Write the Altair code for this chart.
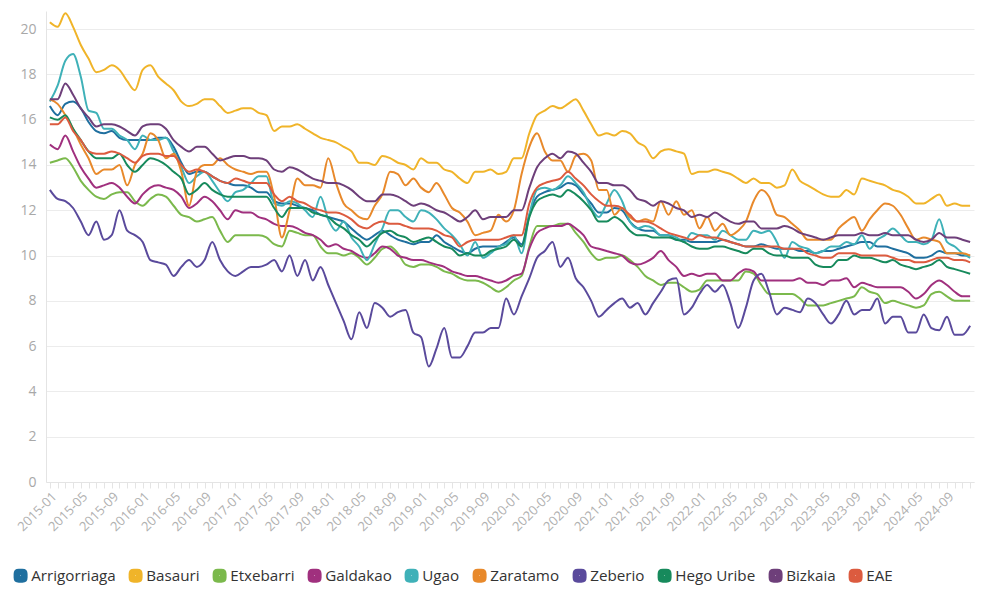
import altair as alt
import pandas as pd

months = [f"{y}-{m:02d}" for y in range(2015, 2025) for m in range(1, 13)]

series_names = ["Arrigorriaga", "Basauri", "Etxebarri", "Galdakao", "Ugao",
                "Zaratamo", "Zeberio", "Hego Uribe", "Bizkaia", "EAE"]
colors = ["#1f6f9f", "#f0b429", "#7bb94c", "#a0307e", "#3fb1b8",
          "#e8892b", "#5a4a9c", "#178a5c", "#6e3f7a", "#dc5b3f"]

arrigorriaga = [16.6, 16.2, 16.7, 16.8, 16.5, 15.9, 15.5, 15.4, 15.5, 15.2,
                15.1, 15.1, 15.1, 15.1, 15.2, 15.2, 14.8, 14.1, 13.6, 13.7,
                13.7, 13.5, 13.3, 13.2, 13.1, 13.1, 13.0, 12.8, 12.8, 12.4,
                12.3, 12.3, 12.2, 12.1, 12.0, 11.8, 11.7, 11.6, 11.5, 11.2,
                10.9, 10.7, 10.9, 11.1, 10.9, 10.7, 10.6, 10.5, 10.6, 10.6,
                10.9, 10.6, 10.4, 10.2, 10.1, 10.3, 10.4, 10.4, 10.4, 10.6,
                10.8, 10.5, 11.8, 12.6, 12.8, 12.9, 13.0, 13.2, 13.1, 12.7,
                12.3, 11.9, 11.9, 12.1, 12.0, 11.5, 11.2, 11.1, 11.1, 10.9,
                10.9, 10.7, 10.7, 10.6, 10.6, 10.6, 10.6, 10.7, 10.6, 10.5,
                10.4, 10.4, 10.5, 10.4, 10.3, 10.3, 10.3, 10.2, 10.2, 10.1,
                10.2, 10.2, 10.3, 10.4, 10.5, 10.6, 10.6, 10.4, 10.4, 10.3,
                10.2, 10.1, 9.9, 9.9, 10.0, 10.2, 10.1, 10.1, 10.0, 10.0]

basauri = [20.3, 20.1, 20.7, 20.1, 19.3, 18.7, 18.1, 18.2, 18.4, 18.2,
           17.7, 17.3, 18.2, 18.4, 17.9, 17.6, 17.3, 16.8, 16.6, 16.7,
           16.9, 16.9, 16.6, 16.3, 16.4, 16.5, 16.5, 16.3, 16.2, 15.5,
           15.7, 15.7, 15.8, 15.6, 15.4, 15.2, 15.1, 15.0, 14.8, 14.6,
           14.1, 14.1, 14.0, 14.4, 14.3, 14.1, 14.0, 13.8, 14.3, 14.1,
           14.1, 13.8, 13.7, 13.4, 13.2, 13.7, 13.7, 13.8, 13.6, 13.7,
           14.3, 14.3, 15.4, 16.2, 16.4, 16.6, 16.5, 16.7, 16.9, 16.4,
           15.8, 15.3, 15.4, 15.3, 15.5, 15.4, 15.0, 14.8, 14.3, 14.6,
           14.7, 14.6, 14.5, 13.6, 13.7, 13.7, 13.8, 13.7, 13.6, 13.4,
           13.2, 13.4, 13.2, 13.2, 13.0, 13.1, 13.8, 13.3, 13.1, 12.9,
           12.7, 12.6, 12.6, 12.9, 12.7, 13.4, 13.3, 13.2, 13.1, 12.9,
           12.8, 12.6, 12.3, 12.3, 12.5, 12.7, 12.2, 12.3, 12.2, 12.2]

etxebarri = [14.1, 14.2, 14.3, 13.9, 13.3, 12.9, 12.6, 12.5, 12.7, 12.8,
             12.8, 12.4, 12.2, 12.5, 12.7, 12.6, 12.2, 11.8, 11.7, 11.5,
             11.6, 11.7, 11.1, 10.6, 10.9, 10.9, 10.9, 10.9, 10.8, 10.5,
             10.4, 11.1, 11.0, 10.9, 10.9, 10.4, 10.1, 10.1, 10.0, 10.1,
             9.9, 9.6, 9.9, 10.3, 10.4, 10.1, 9.6, 9.5, 9.6, 9.6,
             9.5, 9.3, 9.2, 9.0, 8.9, 8.9, 8.8, 8.6, 8.4, 8.6,
             8.9, 9.1, 10.4, 11.3, 11.3, 11.3, 11.4, 11.4, 11.0, 10.6,
             10.1, 9.8, 9.9, 9.9, 10.0, 9.8, 9.5, 9.1, 8.9, 8.7,
             8.8, 8.8, 8.6, 8.4, 8.5, 8.9, 8.9, 8.9, 8.9, 8.9,
             9.3, 9.2, 8.7, 8.3, 8.3, 8.3, 8.3, 8.1, 7.8, 7.8,
             7.8, 7.9, 8.0, 8.1, 8.2, 8.6, 8.4, 8.3, 7.9, 8.0,
             7.9, 7.8, 7.7, 7.8, 8.3, 8.4, 8.2, 8.0, 8.0, 8.0]

galdakao = [14.9, 14.7, 15.3, 14.6, 13.9, 13.4, 13.0, 13.1, 13.2, 13.0,
            12.6, 12.3, 12.7, 13.0, 13.1, 13.0, 12.9, 12.6, 12.1, 12.3,
            12.6, 12.4, 12.0, 11.6, 12.0, 11.9, 11.9, 11.7, 11.6, 11.4,
            11.3, 11.3, 11.2, 11.0, 10.9, 10.7, 10.4, 10.5, 10.3, 10.2,
            10.0, 9.9, 10.1, 10.4, 10.3, 10.0, 9.9, 9.8, 9.8, 9.7,
            9.6, 9.5, 9.3, 9.2, 9.1, 9.1, 9.0, 8.9, 8.8, 8.9,
            9.1, 9.2, 10.3, 11.0, 11.2, 11.3, 11.3, 11.4, 11.2, 10.9,
            10.4, 10.3, 10.2, 10.1, 10.0, 9.7, 9.6, 9.7, 9.9, 10.2,
            9.8, 9.5, 9.1, 9.2, 9.1, 9.2, 9.2, 8.9, 8.9, 9.2,
            9.4, 9.3, 8.9, 8.9, 8.9, 8.9, 8.9, 9.0, 8.8, 8.8,
            8.7, 8.9, 8.9, 9.0, 8.6, 8.8, 8.7, 8.6, 8.6, 8.6,
            8.6, 8.4, 8.1, 8.3, 8.7, 8.9, 8.7, 8.4, 8.2, 8.2]

ugao = [16.8, 17.5, 18.6, 18.9, 17.9, 16.4, 16.3, 15.6, 15.6, 15.3,
        15.1, 14.7, 15.3, 15.1, 15.1, 15.2, 14.6, 13.9, 13.2, 13.5,
        13.7, 13.3, 12.8, 12.4, 12.8, 12.9, 13.2, 13.5, 13.5, 12.3,
        12.2, 12.4, 12.3, 12.0, 11.7, 12.6, 11.6, 11.1, 11.5, 10.8,
        10.4, 9.8, 10.5, 11.2, 12.0, 12.0, 11.7, 11.5, 12.0, 11.9,
        11.6, 11.2, 10.9, 10.5, 10.0, 10.6, 9.9, 10.1, 10.4, 10.5,
        10.9, 10.1, 11.8, 12.9, 13.0, 12.9, 13.1, 13.5, 13.2, 12.8,
        12.1, 11.7, 12.3, 12.9, 12.4, 11.5, 11.2, 11.3, 11.2, 10.9,
        10.9, 10.8, 10.6, 11.0, 10.9, 10.9, 10.7, 11.1, 10.9, 10.7,
        10.7, 11.1, 11.0, 11.1, 10.6, 9.9, 10.6, 10.4, 10.3, 10.1,
        10.2, 10.4, 10.4, 10.6, 10.5, 10.9, 10.3, 10.7, 10.9, 11.2,
        10.9, 10.6, 10.6, 10.5, 10.7, 11.6, 10.6, 10.4, 10.1, 9.9]

zaratamo = [16.9, 16.7, 16.2, 15.6, 14.9, 14.3, 13.6, 13.8, 13.8, 14.0,
            13.1, 14.0, 14.5, 15.4, 15.1, 14.3, 14.5, 13.7, 12.2, 13.7,
            14.0, 14.0, 14.3, 14.0, 13.8, 13.7, 13.6, 13.7, 13.7, 12.6,
            10.8, 12.0, 13.4, 13.1, 13.1, 13.0, 14.3, 13.2, 12.3, 12.0,
            11.7, 11.6, 12.2, 12.7, 13.7, 13.6, 13.1, 13.4, 13.0, 12.8,
            13.2, 12.7, 12.1, 11.9, 11.5, 10.9, 11.0, 11.1, 11.8, 11.5,
            12.0, 13.6, 14.8, 15.4, 14.6, 14.2, 14.2, 13.7, 14.4, 14.5,
            14.2, 12.9, 12.9, 11.8, 12.1, 11.7, 11.5, 11.6, 11.5, 12.4,
            11.8, 12.4, 11.8, 12.0, 11.2, 11.7, 11.1, 11.4, 10.9, 11.1,
            11.5, 12.4, 12.9, 12.6, 11.8, 11.7, 11.4, 11.1, 10.7, 10.7,
            10.7, 10.7, 11.2, 11.5, 11.7, 11.1, 11.6, 12.0, 12.3, 12.2,
            11.8, 11.2, 10.7, 10.8, 10.7, 10.6, 10.1, 10.1, 10.1, 10.0]

zeberio = [12.9, 12.5, 12.4, 12.1, 11.5, 10.9, 11.5, 10.7, 10.9, 12.0,
           11.1, 10.9, 10.6, 9.8, 9.7, 9.6, 9.1, 9.5, 9.8, 9.5,
           9.8, 10.6, 9.8, 9.3, 9.1, 9.3, 9.5, 9.5, 9.6, 9.8,
           9.3, 10.0, 9.1, 9.8, 8.9, 9.5, 8.7, 7.9, 7.1, 6.3,
           7.5, 6.8, 7.9, 7.7, 7.3, 7.5, 7.6, 6.6, 6.4, 5.1,
           5.9, 6.8, 5.5, 5.5, 6.0, 6.6, 6.6, 6.8, 6.8, 8.1,
           7.4, 8.2, 9.0, 9.9, 10.2, 10.6, 9.5, 9.9, 9.0, 8.6,
           8.0, 7.3, 7.6, 7.9, 8.1, 7.7, 7.9, 7.4, 7.9, 8.4,
           8.9, 9.0, 7.4, 7.7, 8.3, 8.7, 8.4, 8.7, 7.9, 6.8,
           7.7, 8.9, 9.2, 8.4, 7.4, 7.7, 7.6, 7.5, 8.1, 7.9,
           7.4, 7.0, 7.4, 8.0, 7.4, 7.6, 7.6, 8.1, 7.0, 7.3,
           7.3, 6.6, 6.6, 7.4, 6.8, 6.7, 7.3, 6.5, 6.5, 6.9]

hego_uribe = [16.1, 16.0, 16.2, 15.6, 15.1, 14.6, 14.3, 14.3, 14.3, 14.5,
              14.0, 13.7, 14.0, 14.3, 14.2, 14.0, 13.7, 13.4, 12.7, 12.9,
              13.2, 12.9, 12.7, 12.6, 12.6, 12.6, 12.6, 12.6, 12.6, 12.1,
              11.7, 12.1, 12.1, 12.1, 11.9, 11.8, 11.7, 11.4, 11.2, 10.9,
              10.7, 10.4, 10.7, 11.0, 11.1, 10.9, 10.8, 10.6, 10.7, 10.8,
              10.6, 10.4, 10.3, 10.0, 10.1, 10.0, 10.0, 10.2, 10.3, 10.4,
              10.7, 10.4, 11.7, 12.4, 12.6, 12.7, 12.6, 12.9, 12.7, 12.4,
              12.0, 11.5, 11.5, 11.7, 11.5, 11.1, 10.9, 10.9, 10.8, 10.8,
              10.8, 10.7, 10.6, 10.4, 10.3, 10.3, 10.4, 10.4, 10.3, 10.2,
              10.1, 10.3, 10.3, 10.1, 10.0, 10.0, 9.9, 9.9, 9.9, 9.6,
              9.5, 9.5, 9.8, 9.8, 10.0, 9.9, 9.9, 9.8, 9.7, 9.8,
              9.6, 9.5, 9.4, 9.5, 9.6, 9.8, 9.5, 9.4, 9.3, 9.2]

bizkaia = [16.9, 16.9, 17.6, 17.1, 16.5, 16.1, 15.7, 15.8, 15.8, 15.7,
           15.5, 15.3, 15.7, 15.8, 15.8, 15.6, 15.1, 14.8, 14.6, 14.8,
           14.8, 14.5, 14.2, 14.3, 14.4, 14.4, 14.3, 14.3, 14.2, 13.8,
           13.7, 13.9, 13.8, 13.6, 13.4, 13.3, 13.2, 13.2, 13.1, 12.9,
           12.6, 12.4, 12.4, 12.7, 12.7, 12.6, 12.4, 12.2, 12.3, 12.2,
           12.0, 11.9, 11.7, 11.5, 11.7, 12.0, 11.6, 11.7, 11.7, 11.7,
           12.0, 12.0, 13.0, 13.9, 14.3, 14.5, 14.3, 14.6, 14.5, 14.1,
           13.7, 13.2, 13.2, 13.1, 13.1, 12.9, 12.5, 12.4, 12.2, 12.4,
           12.3, 12.1, 12.0, 11.7, 11.8, 11.7, 11.9, 11.7, 11.5, 11.4,
           11.5, 11.5, 11.2, 11.2, 11.2, 11.3, 11.2, 11.0, 10.9, 10.8,
           10.7, 10.8, 10.9, 10.9, 10.9, 11.0, 10.9, 10.9, 11.0, 10.9,
           10.9, 10.9, 10.7, 10.6, 10.7, 11.0, 10.8, 10.8, 10.7, 10.6]

eae = [15.8, 15.8, 16.1, 15.5, 15.1, 14.6, 14.5, 14.5, 14.6, 14.5,
       14.3, 14.1, 14.4, 14.5, 14.5, 14.4, 14.4, 14.0, 13.7, 13.8,
       13.7, 13.5, 13.3, 13.2, 13.4, 13.3, 13.2, 13.2, 13.2, 12.7,
       12.4, 12.6, 12.4, 12.3, 12.1, 12.0, 11.9, 11.9, 11.8, 11.6,
       11.3, 11.2, 11.4, 11.5, 11.4, 11.4, 11.3, 11.2, 11.2, 11.2,
       11.1, 10.9, 10.8, 10.4, 10.6, 10.7, 10.7, 10.7, 10.7, 10.8,
       10.9, 10.9, 12.3, 13.0, 13.2, 13.3, 13.4, 13.7, 13.4, 13.1,
       12.7, 12.4, 12.2, 12.2, 12.1, 11.8, 11.5, 11.5, 11.4, 11.2,
       11.0, 10.9, 10.8, 10.7, 10.9, 10.8, 10.8, 10.7, 10.6, 10.5,
       10.4, 10.4, 10.4, 10.4, 10.4, 10.3, 10.3, 10.3, 10.1, 10.0,
       9.9, 9.9, 10.1, 10.1, 10.1, 10.0, 10.0, 10.0, 10.0, 9.9,
       9.8, 9.8, 9.7, 9.7, 9.8, 9.9, 9.9, 9.8, 9.8, 9.7]

values = [arrigorriaga, basauri, etxebarri, galdakao, ugao,
          zaratamo, zeberio, hego_uribe, bizkaia, eae]

rows = []
for name, vals in zip(series_names, values):
    for mo, v in zip(months, vals):
        rows.append({"month": mo, "serie": name, "value": v})
df = pd.DataFrame(rows)

rounded_square = "M-0.6,-1L0.6,-1Q1,-1,1,-0.6L1,0.6Q1,1,0.6,1L-0.6,1Q-1,1,-1,0.6L-1,-0.6Q-1,-1,-0.6,-1Z"

label_expr = ("(substring(datum.label,5,7)=='01'||substring(datum.label,5,7)=='05'||"
              "substring(datum.label,5,7)=='09') ? datum.label : ''")

chart = alt.Chart(df).mark_line(strokeWidth=2, interpolate="monotone").encode(
    x=alt.X("month:O", sort=months,
            scale=alt.Scale(type="point", padding=0.5),
            axis=alt.Axis(title=None, labelAngle=315, labelExpr=label_expr,
                          labelOverlap=False, labelColor="#b0b0b0", labelFontSize=13,
                          labelFont="Open Sans", tickColor="#e4e4e4", tickSize=6,
                          domainColor="#e4e4e4", grid=False, labelPadding=2)),
    y=alt.Y("value:Q", scale=alt.Scale(domain=[0, 20.8], nice=False),
            axis=alt.Axis(title=None, values=list(range(0, 21, 2)),
                          labelColor="#a8a8a8", labelFontSize=14, labelFont="Open Sans",
                          ticks=False, labelPadding=10, domainColor="#e4e4e4",
                          gridColor="#ececec")),
    color=alt.Color("serie:N", sort=series_names,
                    scale=alt.Scale(domain=series_names, range=colors),
                    legend=alt.Legend(title=None, orient="none", legendX=-33, legendY=557,
                                      direction="horizontal", columns=10,
                                      symbolType=rounded_square, symbolSize=36,
                                      symbolStrokeWidth=8, labelFontSize=15.2,
                                      labelFont="Open Sans", labelColor="#333333",
                                      columnPadding=0, labelOffset=3)),
).properties(
    width=928, height=471,
    padding={"left": 5, "top": 1, "right": 5, "bottom": 5},
).configure_view(stroke=None)

chart.save("out.html", embed_options={"renderer": "svg", "actions": False})
